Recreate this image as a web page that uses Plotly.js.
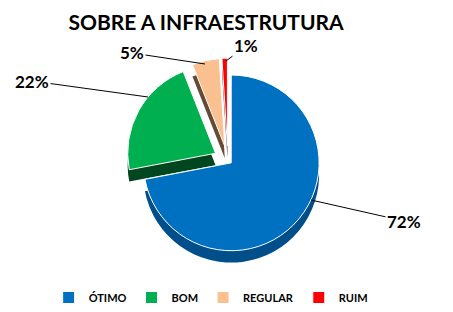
<!DOCTYPE html>
<html><head><meta charset="utf-8">
<script src="https://cdn.plot.ly/plotly-3.0.1.min.js"></script>
<style>html,body{margin:0;padding:0;background:#fff}#c{width:453px;height:312px}</style>
</head><body><div id="c"></div>
<script>
const categories = ["ÓTIMO", "BOM", "REGULAR", "RUIM"];
const values = [72, 22, 5, 1];
const percentLabels = ["72%", "22%", "5%", "1%"];
const colors = ["#0070C0", "#00B050", "#FAC090", "#FF0000"];
const sideColors = ["#004F8A", "#00461F", "#654A35", "#8B0000"];
const pulls = [0.05, 0.16, 0.16, 0.16];
const font = "Lato, 'Open Sans', sans-serif";

const W = 453, H = 312;
// label text centre (px) and leader-line end on slice (px)
const labelPos = [[404, 221], [32, 81], [132, 53], [246, 46]];
const leaderEnd = [[311, 200], [148, 97], [205, 64], [226, 61]];

const depth = {
  type: "pie", labels: categories, values: values, sort: false, direction: "clockwise", rotation: 0,
  pull: pulls, marker: {colors: sideColors, line: {width: 0}}, textinfo: "none", hoverinfo: "skip",
  showlegend: false, domain: {x: [0.278, 0.728], y: [0.122, 0.776]}
};
const main = {
  type: "pie", labels: categories, values: values, sort: false, direction: "clockwise", rotation: 0,
  pull: pulls, marker: {colors: colors, line: {color: "#ffffff", width: 1}},
  textinfo: "none",
  domain: {x: [0.278, 0.728], y: [0.160, 0.814]}
};
const annotations = percentLabels.map((t, i) => ({
  xref: "paper", yref: "paper",
  x: leaderEnd[i][0] / W, y: 1 - leaderEnd[i][1] / H,
  axref: "pixel", ayref: "pixel",
  ax: labelPos[i][0] - leaderEnd[i][0], ay: labelPos[i][1] - leaderEnd[i][1],
  text: "<b>" + t + "</b>", showarrow: true, arrowhead: 0, arrowwidth: 1, arrowcolor: "#000",
  font: {family: font, size: 17, color: "#000"}
}));
Plotly.newPlot("c", [depth, main], {
  width: W, height: H,
  margin: {l: 0, r: 0, t: 0, b: 0},
  paper_bgcolor: "#fff",
  title: {text: "<b>SOBRE A INFRAESTRUTURA</b>", font: {family: font, size: 21, color: "#000"}, x: 0.455, xanchor: "center", y: 0.929, yanchor: "middle"},
  legend: {orientation: "h", x: 0.465, xanchor: "center", y: 0.045, yanchor: "middle", font: {family: font, size: 11, color: "#000", weight: "bold"}, traceorder: "normal", itemwidth: 30},
  annotations: annotations,
  showlegend: true
}, {displayModeBar: false, staticPlot: true});
</script></body></html>
